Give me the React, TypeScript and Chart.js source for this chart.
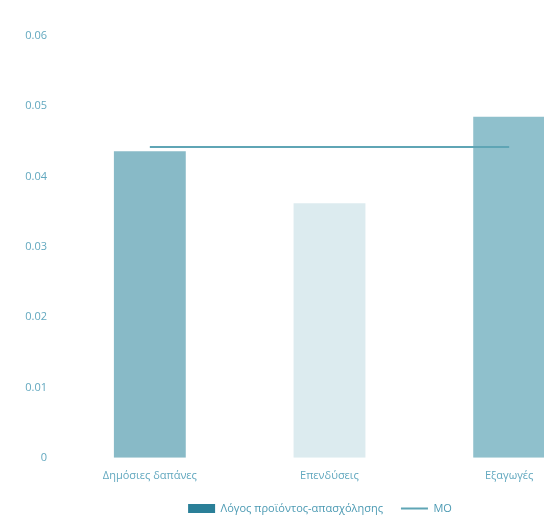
import React, { useEffect, useRef } from "react";
import { Chart, registerables } from "chart.js";

Chart.register(...registerables);

const categories = ["Δημόσιες δαπάνες", "Επενδύσεις", "Εξαγωγές"];
const ratioValues = [0.0436, 0.0362, 0.0485];
const meanValues = [0.0442, 0.0442, 0.0442];
const barColors = ["#88BAC7", "#DCEBEF", "#8FC0CC"];
const yTicks = [0, 0.01, 0.02, 0.03, 0.04, 0.05, 0.06];
const seriesNames = ["Λόγος προϊόντος-απασχόλησης", "ΜΟ"];

const FONT = "'Open Sans', 'Noto Sans', sans-serif";
const TEXT = "#62A8BF";
const LEGEND_TEXT = "#4C9AB3";

const legendShift = {
  id: "legendShift",
  afterLayout(chart: any) {
    if (chart.legend) {
      chart.legend.left += 10.5;
      chart.legend.right += 10.5;
    }
  },
};

export default function App() {
  const ref = useRef<HTMLCanvasElement | null>(null);
  useEffect(() => {
    if (!ref.current) return;
    const chart = new Chart(ref.current, {
      type: "bar",
      data: {
        labels: categories,
        datasets: [
          {
            type: "bar",
            label: seriesNames[0],
            data: ratioValues,
            backgroundColor: barColors,
            barPercentage: 0.4,
            categoryPercentage: 1,
            order: 1,
          },
          {
            type: "line",
            label: seriesNames[1],
            data: meanValues,
            borderColor: "#5FA5B5",
            borderWidth: 2,
            pointRadius: 0,
            order: 0,
          },
        ] as any,
      },
      plugins: [legendShift],
      options: {
        responsive: false,
        animation: false,
        layout: { padding: { left: 20, right: 57, top: 36, bottom: 0 } },
        scales: {
          x: {
            grid: { display: false },
            border: { display: false },
            ticks: {
              color: TEXT,
              font: { family: FONT, size: 11 },
              padding: 3,
            },
          },
          y: {
            min: 0,
            max: 0.06,
            afterBuildTicks: (axis: any) => {
              axis.ticks = yTicks.map((v) => ({ value: v }));
            },
            afterFit: (axis: any) => {
              axis.width = 40;
            },
            grid: { display: false },
            border: { display: false },
            ticks: {
              color: TEXT,
              font: { family: FONT, size: 11 },
              padding: 5,
              callback: (v: any) => String(Number(v)),
            },
          },
        },
        plugins: {
          tooltip: { enabled: false },
          legend: {
            position: "bottom",
            labels: {
              color: LEGEND_TEXT,
              font: { family: FONT, size: 11 },
              usePointStyle: true,
              pointStyleWidth: 27,
              boxHeight: 9,
              padding: 18,
              generateLabels: () => [
                {
                  text: seriesNames[0],
                  fillStyle: "#2A7F98",
                  strokeStyle: "#2A7F98",
                  lineWidth: 0,
                  pointStyle: "rect",
                  datasetIndex: 0,
                  fontColor: LEGEND_TEXT,
                } as any,
                {
                  text: seriesNames[1],
                  fillStyle: "#5FA5B5",
                  strokeStyle: "#5FA5B5",
                  lineWidth: 2,
                  pointStyle: "line",
                  datasetIndex: 1,
                  fontColor: LEGEND_TEXT,
                } as any,
              ],
            },
          },
        },
      } as any,
    });
    return () => chart.destroy();
  }, []);
  return (
    <div
      style={{
        position: "fixed",
        left: 0,
        top: 0,
        width: 544,
        height: 517,
        overflow: "hidden",
        background: "#fff",
      }}
    >
      <canvas ref={ref} width={656} height={524} style={{ display: "block" }} />
    </div>
  );
}
